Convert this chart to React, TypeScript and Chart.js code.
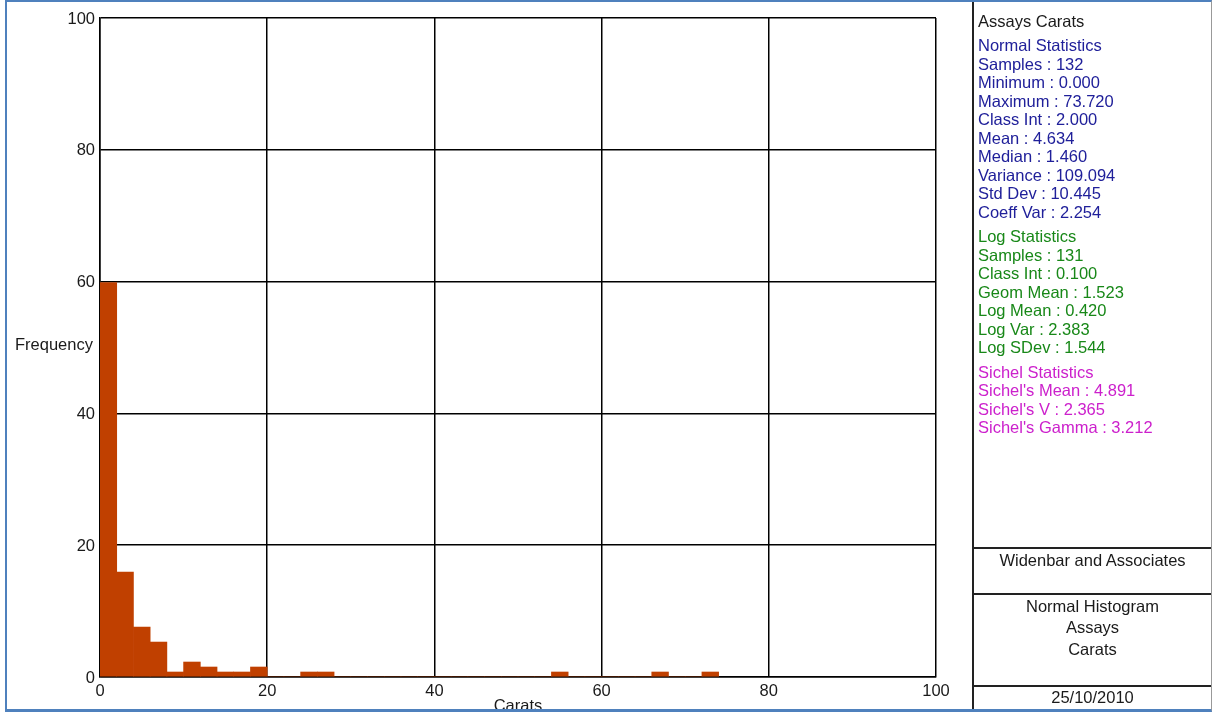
import React, { useEffect, useRef } from "react";
import { Chart, registerables } from "chart.js";

Chart.register(...registerables);

// Histogram classes (class interval 2 carats), sample counts per class
const classInterval = 2;
const classCounts = [
  79, 21, 10, 7, 1, 3, 2, 1, 1, 2,
  0, 0, 1, 1, 0, 0, 0, 0, 0, 0,
  0, 0, 0, 0, 0, 0, 0, 1, 0, 0,
  0, 0, 0, 1, 0, 0, 1,
];
const totalSamples = 132;

const xTicks = [0, 20, 40, 60, 80, 100];
const yTicks = [0, 20, 40, 60, 80, 100];

const titleLine = "Assays Carats";
const normalStats = [
  "Normal Statistics",
  "Samples : 132",
  "Minimum : 0.000",
  "Maximum : 73.720",
  "Class Int : 2.000",
  "Mean : 4.634",
  "Median : 1.460",
  "Variance : 109.094",
  "Std Dev : 10.445",
  "Coeff Var : 2.254",
];
const logStats = [
  "Log Statistics",
  "Samples : 131",
  "Class Int : 0.100",
  "Geom Mean : 1.523",
  "Log Mean : 0.420",
  "Log Var : 2.383",
  "Log SDev : 1.544",
];
const sichelStats = [
  "Sichel Statistics",
  "Sichel's Mean : 4.891",
  "Sichel's V : 2.365",
  "Sichel's Gamma : 3.212",
];
const companyName = "Widenbar and Associates";
const reportLines = ["Normal Histogram", "Assays", "Carats"];
const reportDate = "25/10/2010";

const FONT = '"Liberation Sans", Arial, sans-serif';
const FONT_SIZE = 16.5;
const BAR_COLOR = "#C04000";
const FRAME_BLUE = "#4F81BD";

const axisTitles = {
  id: "axisTitles",
  afterDraw(chart: any) {
    const { ctx, chartArea } = chart;
    ctx.save();
    ctx.fillStyle = "#1a1a1a";
    ctx.font = `${FONT_SIZE}px ${FONT}`;
    ctx.textBaseline = "middle";
    ctx.textAlign = "left";
    ctx.fillText("Frequency", 15, 345);
    ctx.textAlign = "center";
    ctx.fillText("Carats", (chartArea.left + chartArea.right) / 2, 706);
    ctx.restore();
  },
};

function HistogramChart() {
  const ref = useRef<HTMLCanvasElement | null>(null);

  useEffect(() => {
    if (!ref.current) return;
    const points = classCounts.map((c, i) => ({
      x: i * classInterval + classInterval / 2,
      y: (c / totalSamples) * 100,
    }));
    const tickFont = { family: FONT, size: FONT_SIZE };
    const chart = new Chart(ref.current, {
      type: "bar",
      data: {
        datasets: [
          {
            data: points as any,
            backgroundColor: BAR_COLOR,
            borderWidth: 0,
            barPercentage: 1,
            categoryPercentage: 1,
          },
        ],
      },
      options: {
        animation: false,
        responsive: false,
        layout: { padding: { left: 0, top: 18, right: 276, bottom: 0 } },
        plugins: {
          legend: { display: false },
          tooltip: { enabled: false },
        },
        scales: {
          x: {
            type: "linear",
            min: 0,
            max: 100,
            offset: false,
            afterBuildTicks: (s: any) => {
              s.ticks = xTicks.map((v) => ({ value: v }));
            },
            afterFit: (s: any) => {
              s.height = 35;
            },
            ticks: { padding: 5, color: "#1a1a1a", font: tickFont, maxRotation: 0 },
            grid: { offset: false, color: "#000", lineWidth: 1.5, drawTicks: false },
            border: { color: "#000", width: 1.5 },
          },
          y: {
            type: "linear",
            min: 0,
            max: 100,
            afterBuildTicks: (s: any) => {
              s.ticks = yTicks.map((v) => ({ value: v }));
            },
            afterFit: (s: any) => {
              s.width = 100;
            },
            ticks: { padding: 5, color: "#1a1a1a", font: tickFont, labelOffset: 1 },
            grid: { color: "#000", lineWidth: 1.5, drawTicks: false },
            border: { color: "#000", width: 1.5 },
          },
        },
      },
      plugins: [axisTitles],
    });
    return () => chart.destroy();
  }, []);

  return (
    <canvas
      ref={ref}
      width={1212}
      height={712}
      style={{ position: "absolute", left: 0, top: 0, width: 1212, height: 712 }}
    />
  );
}

const groupStyle = (color: string, gap: number): React.CSSProperties => ({
  color,
  marginTop: gap,
});

export default function App() {
  useEffect(() => {
    document.body.style.margin = "0";
  }, []);

  const hLine = (top: number): React.CSSProperties => ({
    position: "absolute",
    left: 972,
    top,
    width: 240,
    height: 2,
    background: "#222",
  });

  const footerText: React.CSSProperties = {
    position: "absolute",
    left: 974,
    width: 237,
    textAlign: "center",
    fontSize: FONT_SIZE,
    color: "#1a1a1a",
  };

  return (
    <div
      style={{
        position: "fixed",
        left: 0,
        top: 0,
        width: 1212,
        height: 712,
        background: "#fff",
        overflow: "hidden",
        fontFamily: FONT,
      }}
    >
      <HistogramChart />

      {/* statistics panel */}
      <div
        style={{
          position: "absolute",
          left: 978,
          top: 11.5,
          fontSize: FONT_SIZE,
          lineHeight: "18.5px",
          whiteSpace: "nowrap",
        }}
      >
        <div style={groupStyle("#1a1a1a", 0)}>{titleLine}</div>
        <div style={groupStyle("#20209a", 6)}>
          {normalStats.map((t) => (
            <div key={t}>{t}</div>
          ))}
        </div>
        <div style={groupStyle("#188818", 6)}>
          {logStats.map((t) => (
            <div key={t}>{t}</div>
          ))}
        </div>
        <div style={groupStyle("#cc20cc", 6)}>
          {sichelStats.map((t) => (
            <div key={t}>{t}</div>
          ))}
        </div>
      </div>

      {/* panel divider and footer boxes */}
      <div style={{ position: "absolute", left: 972, top: 0, width: 2, height: 712, background: "#222" }} />
      <div style={hLine(547)} />
      <div style={hLine(593)} />
      <div style={hLine(685)} />

      <div style={{ ...footerText, top: 551, lineHeight: "18px" }}>{companyName}</div>
      <div style={{ ...footerText, top: 595.5, lineHeight: "21.5px" }}>
        {reportLines.map((t) => (
          <div key={t}>{t}</div>
        ))}
      </div>
      <div style={{ ...footerText, top: 688, lineHeight: "18px" }}>{reportDate}</div>

      {/* outer frame */}
      <div
        style={{
          position: "absolute",
          left: 5,
          top: 0,
          width: 1207,
          height: 712,
          boxSizing: "border-box",
          borderLeft: `2px solid ${FRAME_BLUE}`,
          borderTop: `2px solid ${FRAME_BLUE}`,
          borderBottom: `3px solid ${FRAME_BLUE}`,
          borderRight: "1px solid #999",
          pointerEvents: "none",
        }}
      />
    </div>
  );
}
